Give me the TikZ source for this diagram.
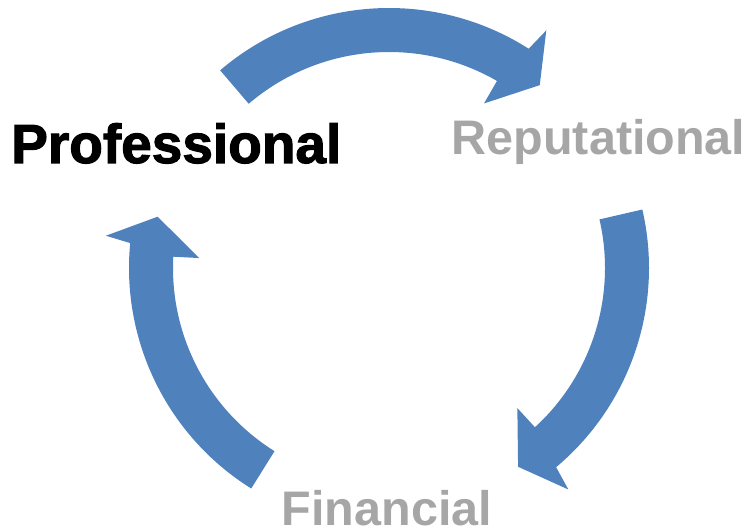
\documentclass[tikz,border=0pt]{standalone}
\usepackage{fontspec}
\newfontfamily\labelfont{Liberation Sans}
\newfontfamily\heavyfont{Liberation Sans Bold}[FakeBold=2]
\definecolor{arrowblue}{RGB}{79,129,189}
\definecolor{labelgray}{RGB}{166,166,166}

% #1 = tail angle, #2 = angle where the head starts
\newcommand{\cyclearrow}[2]{%
  \fill[cycle arrow] (#1:260) arc[start angle=#1, end angle=#2, radius=260]
    -- (#2-1:285) -- (#2-7:237) -- (#2+2.5:190) -- (#2+2.5:216)
    arc[start angle=#2+2.5, end angle=#1, radius=216] -- cycle;}

\begin{document}
\begin{tikzpicture}[x=1pt, y=1pt, cycle arrow/.style={fill=arrowblue}, label node/.style={anchor=base west, inner sep=0pt, font=\labelfont\bfseries\fontsize{48.5}{56}\selectfont}]
        \useasboundingbox (0,0) rectangle (747,531);

          \begin{scope}[shift={(389,263)}]
            \cyclearrow{130.5}{57.5}
            \cyclearrow{13}{-50}
            \cyclearrow{-122}{-185.5}
          \end{scope}

          \node[label node, font=\heavyfont\fontsize{55}{62}\selectfont] (prof) at (11,368) {Professional};
          \node[label node, text=labelgray] (reput) at (451.5,376) {Reputational};
          \node[label node, text=labelgray, text depth=0pt] (finan) at (281.5,5.5) {Financial};

        \end{tikzpicture}
\end{document}
